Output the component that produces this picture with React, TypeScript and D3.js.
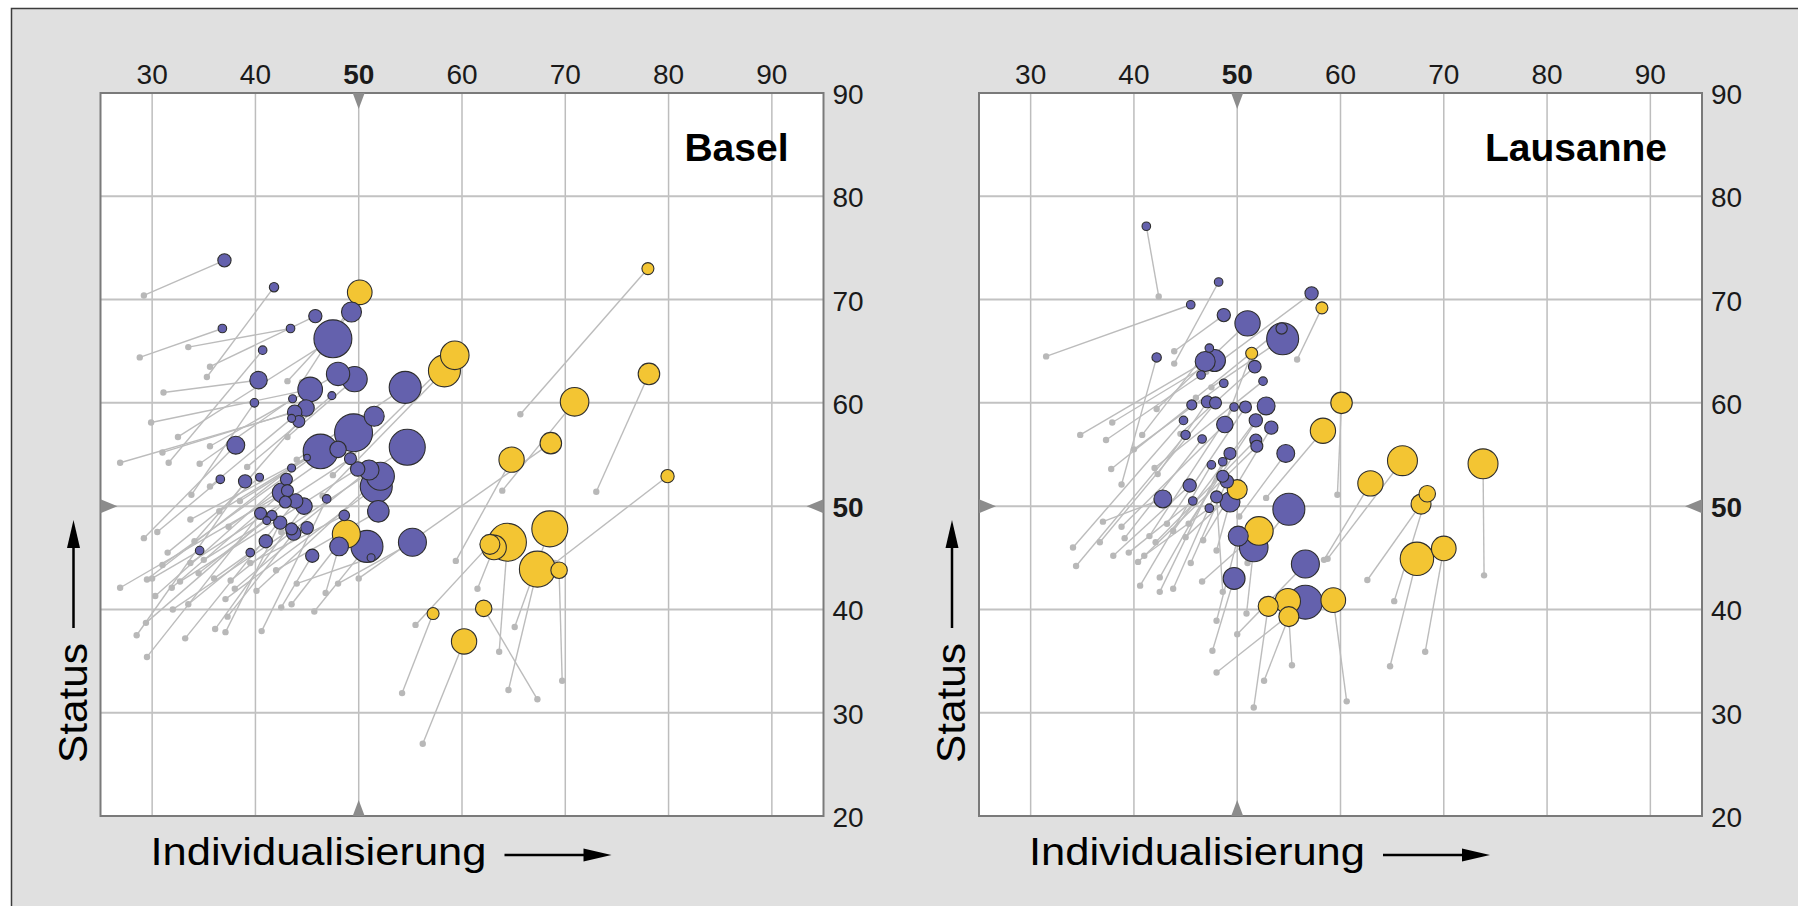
import React from 'react';
import * as d3 from 'd3';

// x = Individualisierung, y = Status ; [start x, start y, end x, end y, weight]
type Move = [number, number, number, number, number];

const xTicks = [30, 40, 50, 60, 70, 80, 90];
const yTicks = [20, 30, 40, 50, 60, 70, 80, 90];
const xDomain: [number, number] = [25, 95];
const yDomain: [number, number] = [20, 90];
const refValue = 50;

const baselBlue: Move[] = [
  [29.2, 70.4, 37.0, 73.8, 11], [35.3, 62.5, 41.8, 71.2, 5.5], [28.8, 64.4, 36.8, 67.2, 4.6],
  [33.5, 65.4, 43.4, 67.2, 4.6], [35.6, 63.5, 45.8, 68.4, 11], [43.1, 62.1, 49.3, 68.8, 25],
  [32.5, 56.7, 47.5, 66.2, 90], [31.6, 54.2, 40.7, 65.1, 4.6], [31.1, 61.0, 40.3, 62.2, 19],
  [35.6, 55.8, 48.0, 62.8, 34], [43.1, 56.7, 49.6, 62.3, 40], [39.2, 53.8, 47.4, 60.7, 4],
  [29.9, 58.1, 45.3, 61.3, 38], [34.6, 54.1, 43.6, 60.4, 4], [31.0, 55.2, 44.9, 59.5, 17],
  [26.9, 54.2, 43.8, 59.1, 13], [34.1, 46.6, 44.2, 58.2, 9], [35.6, 51.9, 43.5, 58.5, 4],
  [33.8, 51.1, 39.9, 60.0, 4.6], [29.2, 46.9, 38.1, 55.9, 20], [38.5, 50.5, 51.5, 58.7, 25],
  [33.7, 48.7, 49.5, 57.1, 90], [31.0, 44.3, 46.3, 55.3, 75], [37.4, 48.0, 48.0, 55.5, 17],
  [36.5, 49.5, 45.0, 54.7, 2.7], [33.7, 44.5, 49.2, 54.6, 9], [32.7, 42.7, 49.9, 53.6, 13],
  [37.6, 42.8, 51.0, 53.5, 25], [40.1, 41.8, 52.1, 52.9, 49], [37.1, 41.0, 51.7, 51.9, 64],
  [29.5, 42.9, 43.5, 53.7, 4], [30.3, 41.3, 43.0, 52.6, 9], [31.9, 42.1, 42.6, 51.3, 25],
  [26.9, 42.1, 43.1, 51.5, 9], [29.4, 38.7, 42.9, 50.4, 9], [33.2, 37.2, 43.9, 50.5, 13],
  [36.1, 38.1, 44.7, 50.0, 17], [31.5, 45.5, 40.4, 52.8, 4], [28.5, 37.5, 39.0, 52.4, 11],
  [30.5, 47.5, 36.6, 52.6, 4.6], [40.6, 37.9, 46.9, 50.7, 4.6], [42.0, 43.8, 51.9, 49.5, 29],
  [29.5, 35.4, 40.5, 49.3, 9], [34.5, 43.5, 41.6, 49.1, 6.3], [37.1, 37.8, 42.4, 48.4, 11],
  [35.0, 44.8, 41.1, 48.6, 4], [37.3, 39.3, 43.7, 47.4, 13], [32.0, 40.0, 43.5, 47.8, 9],
  [38.0, 42.0, 45.0, 47.9, 10], [39.5, 44.5, 48.6, 49.1, 7], [33.5, 40.5, 41.0, 46.6, 11],
  [36.0, 43.0, 39.5, 45.5, 4.6], [30.0, 43.0, 34.6, 45.7, 4.6], [42.5, 40.2, 45.5, 45.2, 11],
  [46.8, 41.6, 48.1, 46.1, 22], [45.7, 39.8, 50.8, 46.1, 64], [44.0, 42.5, 51.2, 45.0, 4],
  [44.0, 54.5, 54.5, 61.5, 64], [42.5, 47.5, 54.7, 55.7, 81], [48.0, 42.5, 55.2, 46.5, 49],
];

const baselYellow: Move[] = [
  [44.5, 62.0, 50.1, 70.7, 38], [43.5, 40.5, 48.8, 47.3, 49], [65.65, 58.9, 78.0, 73.0, 9],
  [47.5, 53.0, 59.3, 64.6, 51], [46.5, 51.0, 58.3, 63.1, 64], [73.0, 51.4, 78.1, 62.8, 29],
  [63.9, 51.5, 70.9, 60.1, 51], [50.0, 43.0, 68.6, 56.1, 29], [59.4, 44.7, 64.8, 54.5, 40],
  [69.0, 44.5, 79.9, 52.9, 11], [65.1, 38.3, 68.5, 47.8, 81], [63.6, 35.9, 64.4, 46.5, 90],
  [61.5, 42.0, 63.1, 46.0, 38], [55.5, 38.5, 62.7, 46.3, 25], [64.5, 32.2, 67.3, 43.9, 81],
  [69.7, 33.1, 69.4, 43.8, 17], [67.3, 31.3, 62.1, 40.1, 17], [54.2, 31.9, 57.2, 39.6, 9],
  [56.2, 27.0, 60.2, 36.9, 40],
];

const lausanneBlue: Move[] = [
  [42.4, 70.3, 41.2, 77.1, 4.6], [43.9, 63.8, 48.2, 71.7, 4.6], [31.5, 64.5, 45.5, 69.5, 4.6],
  [43.9, 65.0, 48.7, 68.5, 11], [42.2, 59.4, 51.0, 67.7, 40], [47.5, 61.5, 54.4, 66.2, 64],
  [46.0, 60.5, 54.3, 67.2, 8], [38.8, 52.1, 42.2, 64.4, 5.5], [40.8, 56.9, 47.3, 65.3, 4.6],
  [37.9, 58.1, 47.8, 64.1, 30], [34.8, 56.9, 46.9, 64.0, 25], [37.3, 56.4, 46.5, 62.7, 4.6],
  [44.5, 57.0, 51.7, 63.5, 10], [40.0, 55.5, 48.7, 61.9, 4.6], [42.0, 53.7, 52.5, 62.1, 4.6],
  [37.8, 53.6, 45.6, 59.8, 6.3], [42.3, 53.1, 47.1, 60.1, 9], [36.7, 46.5, 47.9, 60.0, 9],
  [41.5, 47.1, 49.7, 59.6, 4.6], [43.2, 48.3, 50.8, 59.6, 9], [45.3, 48.3, 52.8, 59.7, 20],
  [34.1, 46.0, 44.8, 58.3, 4.6], [38.8, 48.0, 48.8, 57.9, 17], [43.8, 47.6, 51.8, 58.3, 11],
  [46.7, 46.7, 53.3, 57.6, 11], [34.4, 44.2, 45.0, 56.9, 5.5], [39.1, 46.9, 46.6, 56.5, 4.6],
  [42.1, 46.5, 51.8, 56.4, 9], [40.4, 44.6, 51.9, 55.8, 9], [50.2, 49.0, 54.7, 55.1, 20],
  [42.5, 43.1, 49.3, 55.1, 9], [40.6, 42.3, 47.5, 54.0, 4.6], [42.5, 41.7, 48.6, 54.3, 4.6],
  [43.8, 42.0, 48.6, 52.9, 9], [45.5, 44.5, 49.0, 52.4, 11], [38.0, 45.2, 45.4, 52.0, 11],
  [37.0, 48.5, 42.8, 50.7, 20], [39.5, 45.5, 45.7, 50.5, 4.6], [48.6, 41.7, 48.0, 50.9, 9],
  [48.0, 45.7, 49.3, 50.4, 25], [41.0, 45.2, 47.3, 49.8, 4.6], [51.0, 44.5, 55.0, 49.7, 64],
  [48.0, 38.9, 50.1, 47.1, 25], [50.9, 39.6, 51.6, 46.0, 51], [47.6, 36.0, 49.7, 43.0, 30],
  [50.0, 37.6, 56.6, 44.4, 49], [48.0, 33.9, 56.6, 40.7, 72], [47.0, 63.0, 57.2, 70.6, 11],
];

const lausanneYellow: Move[] = [
  [49.0, 58.5, 51.4, 64.8, 9], [45.0, 47.0, 50.0, 51.6, 25], [46.6, 42.7, 52.1, 47.6, 51],
  [51.6, 30.5, 53.0, 40.3, 25], [55.3, 34.6, 54.9, 40.8, 40], [52.6, 33.1, 55.0, 39.3, 25],
  [55.8, 64.2, 58.2, 69.2, 9], [59.7, 51.1, 60.1, 60.0, 29], [52.8, 50.8, 58.3, 57.3, 40],
  [58.75, 44.9, 66.0, 54.4, 56], [58.4, 44.8, 62.9, 52.2, 40], [65.2, 40.8, 68.4, 51.2, 17],
  [62.6, 42.85, 67.8, 50.2, 25], [73.9, 43.3, 73.8, 54.1, 56], [64.8, 34.5, 67.4, 44.9, 70],
  [68.2, 35.9, 70.0, 45.9, 38], [60.6, 31.1, 59.3, 40.9, 38],
];

const BLUE = '#6461ad';
const YELLOW = '#f3c533';
const FONT = '"Liberation Sans", Arial, Helvetica, sans-serif';
const TOP = 93;
const SIZE = 723;

const rScale = d3.scaleSqrt().domain([0, 100]).range([0, 20]);

function Panel({ left, title, blue, yellow }: { left: number; title: string; blue: Move[]; yellow: Move[] }) {
  const x = d3.scaleLinear().domain(xDomain).range([left, left + SIZE]);
  const y = d3.scaleLinear().domain(yDomain).range([TOP + SIZE, TOP]);
  const all = [
    ...blue.map((d) => ({ d, c: BLUE, k: 0 })),
    ...yellow.map((d) => ({ d, c: YELLOW, k: 1 })),
  ];
  const sorted = [...all].sort((a, b) => b.d[4] - a.d[4] || a.k - b.k);
  const x50 = x(refValue);
  const y50 = y(refValue);
  const right = left + SIZE;
  const bottom = TOP + SIZE;
  return (
    <g>
      <rect x={left} y={TOP} width={SIZE} height={SIZE} fill="#fff" />
      {xTicks.map((t) => (
        <line key={'gx' + t} x1={x(t)} x2={x(t)} y1={TOP} y2={bottom} stroke="#bdbdbd" strokeWidth={1.5} />
      ))}
      {yTicks.filter((t) => t > yDomain[0] && t < yDomain[1]).map((t) => (
        <line key={'gy' + t} x1={left} x2={right} y1={y(t)} y2={y(t)} stroke="#c2c2c2" strokeWidth={2} />
      ))}
      <rect x={left} y={TOP} width={SIZE} height={SIZE} fill="none" stroke="#7a7a7a" strokeWidth={2} />
      <polygon points={`${x50 - 6},${TOP} ${x50 + 6},${TOP} ${x50},${TOP + 16}`} fill="#8c8c8c" />
      <polygon points={`${x50 - 6},${bottom} ${x50 + 6},${bottom} ${x50},${bottom - 16}`} fill="#8c8c8c" />
      <polygon points={`${left},${y50 - 7} ${left},${y50 + 7} ${left + 17},${y50}`} fill="#8c8c8c" />
      <polygon points={`${right},${y50 - 7} ${right},${y50 + 7} ${right - 17},${y50}`} fill="#8c8c8c" />
      {all.map(({ d }, i) => (
        <line key={'l' + i} x1={x(d[0])} y1={y(d[1])} x2={x(d[2])} y2={y(d[3])} stroke="#bcbcbc" strokeWidth={1.4} />
      ))}
      {all.map(({ d }, i) => (
        <circle key={'s' + i} cx={x(d[0])} cy={y(d[1])} r={3.2} fill="#b8b8b8" />
      ))}
      {sorted.map(({ d, c }, i) => (
        <circle key={'e' + i} cx={x(d[2])} cy={y(d[3])} r={rScale(d[4])} fill={c} stroke="#2e2e2e" strokeWidth={1.1} />
      ))}
      {xTicks.map((t) => (
        <text key={'tx' + t} x={x(t)} y={84} textAnchor="middle" fontSize={28} fontWeight={t === refValue ? 'bold' : 'normal'} fill="#1a1a1a" fontFamily={FONT}>
          {t}
        </text>
      ))}
      {yTicks.map((t) => (
        <text key={'ty' + t} x={right + 9} y={y(t) + 11} textAnchor="start" fontSize={28} fontWeight={t === refValue ? 'bold' : 'normal'} fill="#1a1a1a" fontFamily={FONT}>
          {t}
        </text>
      ))}
      <text x={right - 35} y={161} textAnchor="end" fontSize={39} fontWeight="bold" fill="#000" fontFamily={FONT}>
        {title}
      </text>
      <text x={left + 50} y={865} fontSize={38} textLength={336} lengthAdjust="spacingAndGlyphs" fill="#000" fontFamily={FONT}>
        Individualisierung
      </text>
      <line x1={left + 404} x2={left + 486} y1={855} y2={855} stroke="#000" strokeWidth={2.5} />
      <polygon points={`${left + 483},${848.5} ${left + 511},${855} ${left + 483},${861.5}`} fill="#000" />
      <text transform={`translate(${left - 14},763) rotate(-90)`} fontSize={40} textLength={120} lengthAdjust="spacingAndGlyphs" fill="#000" fontFamily={FONT}>
        Status
      </text>
      <line x1={left - 27} x2={left - 27} y1={628} y2={545} stroke="#000" strokeWidth={2.5} />
      <polygon points={`${left - 33.5},${548} ${left - 27},${520} ${left - 20.5},${548}`} fill="#000" />
    </g>
  );
}

export default function App() {
  return (
    <svg width={1798} height={906} style={{ position: 'absolute', left: 0, top: 0, display: 'block' }}>
      <rect x={11.5} y={8.5} width={1800} height={910} fill="#e0e0e0" stroke="#3c3c3c" strokeWidth={1.5} />
      <Panel left={100.5} title="Basel" blue={baselBlue} yellow={baselYellow} />
      <Panel left={979} title="Lausanne" blue={lausanneBlue} yellow={lausanneYellow} />
    </svg>
  );
}
